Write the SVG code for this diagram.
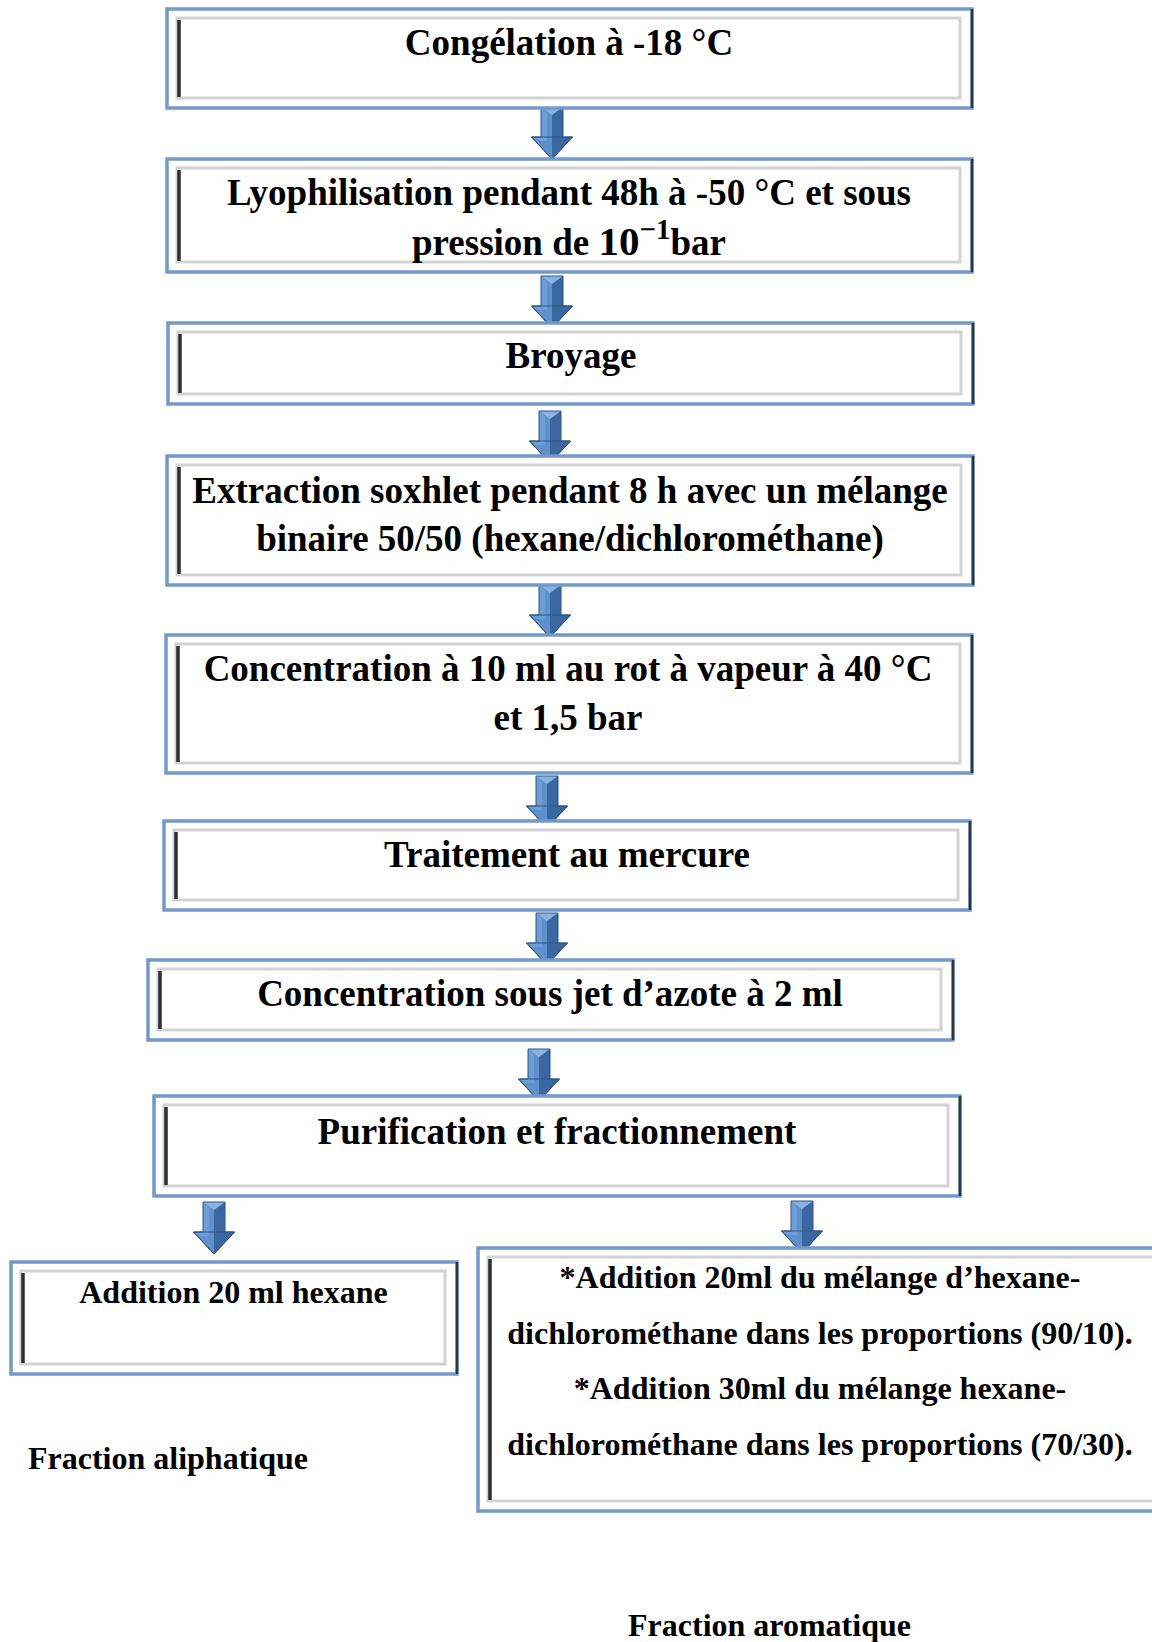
<svg xmlns="http://www.w3.org/2000/svg" width="1152" height="1642" viewBox="0 0 1152 1642">
<style>
.outer{fill:#ffffff;stroke:#7299c8;stroke-width:3.5}
.inner{fill:none;stroke:#d2d2d2;stroke-width:3}
.ldark{stroke:#2e2e2e;stroke-width:3.5}
.rdark{stroke:#2b3645;stroke-width:2.5}
.t{font-family:"Liberation Serif","Times New Roman",serif;font-weight:bold;font-size:37px;fill:#000;text-anchor:middle}
.s{font-family:"Liberation Serif","Times New Roman",serif;font-weight:bold;font-size:32px;fill:#000;text-anchor:middle}
</style>
<defs>
<g id="arrow">
<polygon points="0,0 -11,0 -11,30 -20.5,30 0,52" fill="#5f90cc"/>
<polygon points="0,0 11,0 11,30 20.5,30 0,52" fill="#3a679f"/>
<polygon points="-11,0 11,0 0,8" fill="#8ab3e0"/>
<polygon points="-11,0 -11,30 -20.5,30 -14,34 -5,34 -5,6" fill="#7aa7dc" opacity="0.6"/>
<polygon points="-20.5,30 20.5,30 0,52" fill="none" stroke="#2c5686" stroke-width="1"/>
<polygon points="0,0 -11,0 -11,30 -20.5,30 0,52 20.5,30 11,30 11,0" fill="none" stroke="#2c5686" stroke-width="1"/>
</g>
</defs>

<g id="connectors">
<use href="#arrow" x="552" y="107"/>
<use href="#arrow" x="552" y="276"/>
<use href="#arrow" x="550" y="411"/>
<use href="#arrow" x="550" y="585"/>
<use href="#arrow" x="547" y="776"/>
<use href="#arrow" x="547" y="913"/>
<use href="#arrow" x="539" y="1049"/>
<use href="#arrow" x="214" y="1202"/>
<use href="#arrow" x="802" y="1201"/>
</g>

<g id="n1">
<rect class="outer" x="167" y="9" width="805" height="99"/>
<rect class="inner" x="177" y="18" width="783" height="80"/>
<line class="ldark" x1="179" y1="20" x2="179" y2="97"/>
<line class="rdark" x1="972" y1="9" x2="972" y2="108"/>
<text class="t" x="569" y="55">Congélation à -18 °C</text>
</g>

<g id="n2">
<rect class="outer" x="167" y="159" width="805" height="113"/>
<rect class="inner" x="177" y="168" width="783" height="94"/>
<line class="ldark" x1="179" y1="170" x2="179" y2="261"/>
<line class="rdark" x1="972" y1="159" x2="972" y2="272"/>
<text class="t" x="569" y="205">Lyophilisation pendant 48h à -50 °C et sous</text>
<text class="t" x="569" y="255">pression de <tspan font-size="41">10</tspan><tspan dy="-16" font-size="29">−1</tspan><tspan dy="16">bar</tspan></text>
</g>

<g id="n3">
<rect class="outer" x="168" y="323" width="805" height="81"/>
<rect class="inner" x="178" y="332" width="783" height="62"/>
<line class="ldark" x1="180" y1="334" x2="180" y2="393"/>
<line class="rdark" x1="973" y1="323" x2="973" y2="404"/>
<text class="t" x="571" y="368">Broyage</text>
</g>

<g id="n4">
<rect class="outer" x="167" y="456" width="806" height="129"/>
<rect class="inner" x="177" y="465" width="784" height="110"/>
<line class="ldark" x1="179" y1="467" x2="179" y2="574"/>
<line class="rdark" x1="973" y1="456" x2="973" y2="585"/>
<text class="t" x="570" y="503">Extraction soxhlet pendant 8 h avec un mélange</text>
<text class="t" x="570" y="551">binaire 50/50 (hexane/dichlorométhane)</text>
</g>

<g id="n5">
<rect class="outer" x="166" y="635" width="806" height="138"/>
<rect class="inner" x="176" y="644" width="784" height="119"/>
<line class="ldark" x1="178" y1="646" x2="178" y2="762"/>
<line class="rdark" x1="972" y1="635" x2="972" y2="773"/>
<text class="t" x="568" y="681">Concentration à 10 ml au rot à vapeur à 40 °C</text>
<text class="t" x="568" y="730">et 1,5 bar</text>
</g>

<g id="n6">
<rect class="outer" x="164" y="821" width="806" height="89"/>
<rect class="inner" x="174" y="830" width="784" height="70"/>
<line class="ldark" x1="176" y1="832" x2="176" y2="899"/>
<line class="rdark" x1="970" y1="821" x2="970" y2="910"/>
<text class="t" x="567" y="867">Traitement au mercure</text>
</g>

<g id="n7">
<rect class="outer" x="148" y="960" width="805" height="80"/>
<rect class="inner" x="158" y="969" width="783" height="61"/>
<line class="ldark" x1="160" y1="971" x2="160" y2="1029"/>
<line class="rdark" x1="953" y1="960" x2="953" y2="1040"/>
<text class="t" x="550" y="1006">Concentration sous jet d’azote à 2 ml</text>
</g>

<g id="n8">
<rect class="outer" x="154" y="1096" width="806" height="100"/>
<rect class="inner" x="164" y="1105" width="784" height="81"/>
<line class="ldark" x1="166" y1="1107" x2="166" y2="1185"/>
<line class="rdark" x1="960" y1="1096" x2="960" y2="1196"/>
<text class="t" x="557" y="1144">Purification et fractionnement</text>
</g>

<g id="n9">
<rect class="outer" x="11" y="1262" width="446" height="112"/>
<rect class="inner" x="21" y="1271" width="424" height="93"/>
<line class="ldark" x1="23" y1="1273" x2="23" y2="1363"/>
<line class="rdark" x1="457" y1="1262" x2="457" y2="1374"/>
<text class="s" x="233.5" y="1303">Addition 20 ml hexane</text>
</g>

<g id="n10">
<rect class="outer" x="478" y="1248" width="700" height="263"/>
<rect class="inner" x="488" y="1257" width="678" height="244"/>
<line class="ldark" x1="490" y1="1259" x2="490" y2="1500"/>
<text class="s" x="820" y="1288">*Addition 20ml du mélange d’hexane-</text>
<text class="s" x="820" y="1344">dichlorométhane dans les proportions (90/10).</text>
<text class="s" x="820" y="1399">*Addition 30ml du mélange hexane-</text>
<text class="s" x="820" y="1455">dichlorométhane dans les proportions (70/30).</text>
</g>

<g id="label-aliphatique">
<text class="s" x="168" y="1469">Fraction aliphatique</text>
</g>
<g id="label-aromatique">
<text class="s" x="769.5" y="1636">Fraction aromatique</text>
</g>
</svg>
